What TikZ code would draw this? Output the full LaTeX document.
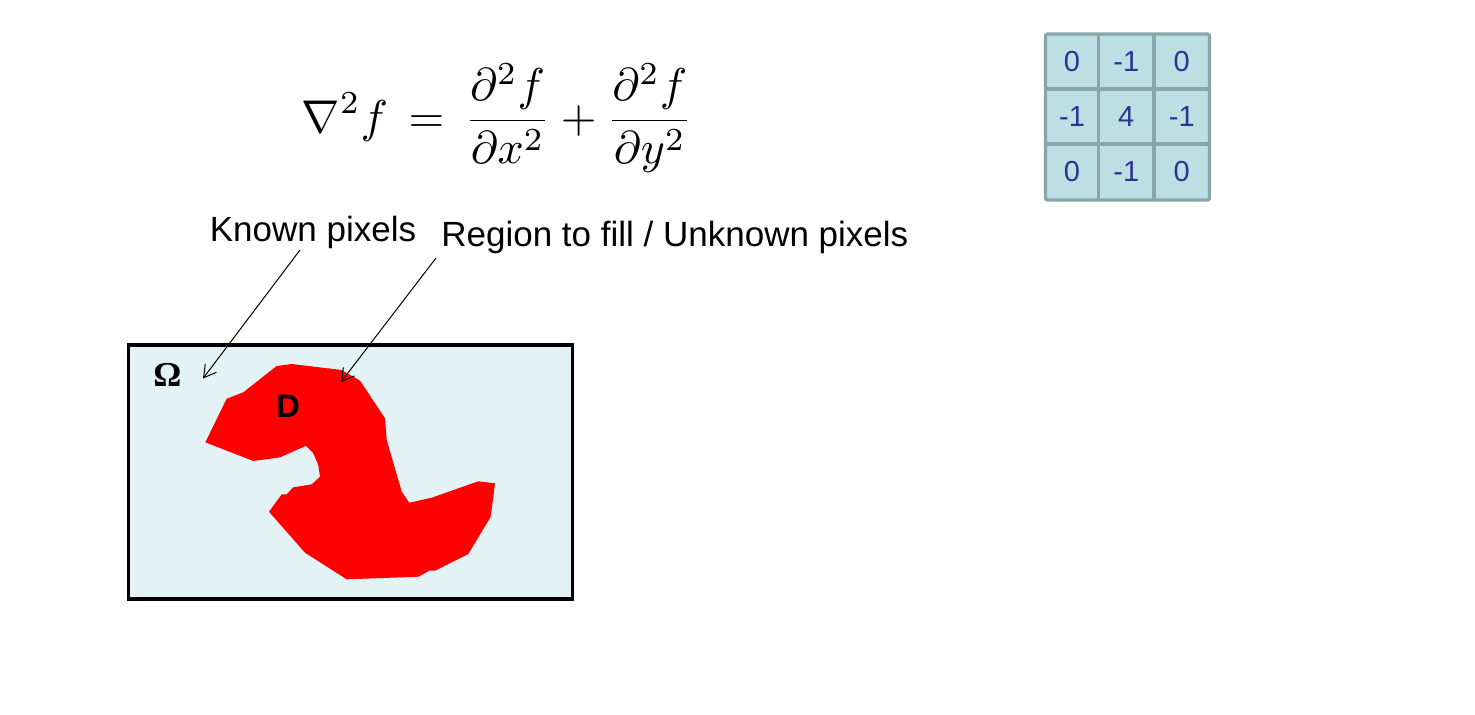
\documentclass[tikz,border=0pt]{standalone}
\usepackage{fontspec}
\setmainfont{Liberation Sans}
\newfontfamily\serifbold{Liberation Serif}[Scale=1]
\usetikzlibrary{arrows.meta}
\definecolor{omegafill}{RGB}{227,242,244}
\definecolor{cellfill}{RGB}{187,223,226}
\definecolor{cellline}{RGB}{138,165,166}
\definecolor{celltext}{RGB}{46,49,146}
\begin{document}
\begin{tikzpicture}[x=0.5pt,y=-0.5pt,
  labeltext/.style={inner sep=0pt, anchor=base west, font=\fontsize{17.5pt}{20pt}\selectfont},
  cellnum/.style={inner sep=0pt, text=celltext, font=\fontsize{14.5pt}{17pt}\selectfont},
  pointer/.style={draw=black, line width=0.5pt, -{Straight Barb[length=6pt,width=7pt,line width=0.5pt]}},
  gridline/.style={draw=cellline, line width=1.65pt}]
\useasboundingbox (0,0) rectangle (1475,714);

% formula
\node[inner sep=0pt] (formula) at (497.3,118)
  {\resizebox{195.5pt}{!}{$\displaystyle \nabla^{2} f \,=\, \frac{\partial^{2} f}{\partial x^{2}} + \frac{\partial^{2} f}{\partial y^{2}}$}};

% kernel matrix
\fill[cellfill] (1045.5,34) rectangle (1209.5,200);
\draw[gridline, rounded corners=1pt] (1045.5,34) rectangle (1209.5,200);
\draw[gridline] (1098.5,34) -- (1098.5,200);
\draw[gridline] (1154,34) -- (1154,200);
\draw[gridline] (1045.5,89) -- (1209.5,89);
\draw[gridline] (1045.5,144) -- (1209.5,144);
\node[cellnum] (m11) at (1072,61.5) {0};
\node[cellnum] (m12) at (1126.25,61.5) {-1};
\node[cellnum] (m13) at (1181.75,61.5) {0};
\node[cellnum] (m21) at (1072,116.5) {-1};
\node[cellnum] (m22) at (1126.25,116.5) {4};
\node[cellnum] (m23) at (1181.75,116.5) {-1};
\node[cellnum] (m31) at (1072,172) {0};
\node[cellnum] (m32) at (1126.25,172) {-1};
\node[cellnum] (m33) at (1181.75,172) {0};

% domain
\draw[fill=omegafill, line width=1.65pt] (128.3,345) rectangle (572.3,599);
\fill[red] (276.7,366) -- (291.7,364) -- (341.7,370) -- (360,380.7) -- (385,418.3)
  -- (386.7,440) -- (401.7,491.7) -- (409.3,502.7) -- (431.7,497.7) -- (478.3,481.3)
  -- (495,483.3) -- (490.7,516.7) -- (468.3,554) -- (435,570.7) -- (429.3,570.7)
  -- (418.3,576.7) -- (346.7,579.3) -- (305,552.7) -- (269,511.7) -- (281.7,494.3)
  -- (286.7,494.3) -- (293.3,487.3) -- (311.7,484.3) -- (320,476.7) -- (318.3,465)
  -- (313.3,453.3) -- (306,445.7) -- (280,457.3) -- (253.3,461) -- (205.3,442.3)
  -- (226.7,398.7) -- (243.3,392.3) -- cycle;
\node[inner sep=0pt, font=\fontsize{16.3pt}{19pt}\selectfont\bfseries] (D) at (288.2,406.7) {D};
\node[inner sep=0pt, font=\fontsize{17.5pt}{20pt}\serifbold\bfseries] (Omega) at (167.3,375) {Ω};

% labels and pointers
\node[labeltext] (known) at (209.5,241.7) {Known pixels};
\node[labeltext] (region) at (441,246.7) {Region to fill / Unknown pixels};
\coordinate (knownend) at (203,378.5);
\coordinate (regionend) at (341,382);
\coordinate (knownstart) at (300,250);
\coordinate (regionstart) at (436,258);
\draw[pointer] (knownstart) -- (knownend);
\draw[pointer] (regionstart) -- (regionend);
\end{tikzpicture}
\end{document}
